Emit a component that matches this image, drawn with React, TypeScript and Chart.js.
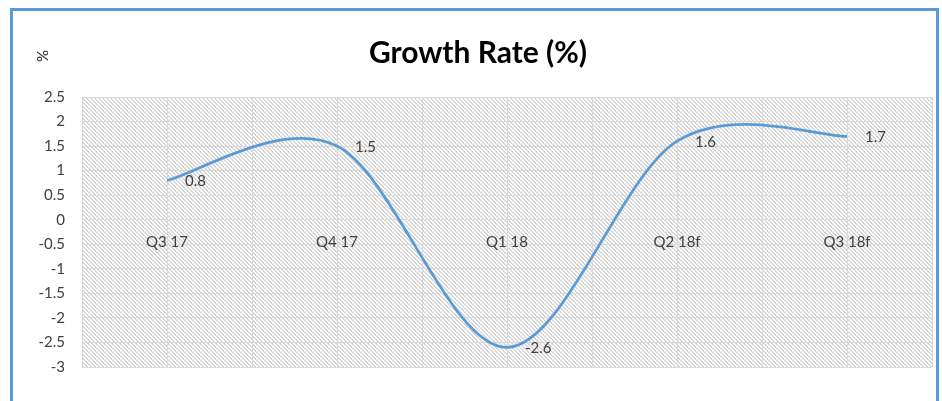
import React, { useEffect, useRef } from 'react';
import { Chart, registerables } from 'chart.js';

Chart.register(...registerables);

// ---- data ----
const categories: string[] = ['Q3 17', 'Q4 17', 'Q1 18', 'Q2 18f', 'Q3 18f'];
const growthRate: number[] = [0.8, 1.5, -2.6, 1.6, 1.7];
const dataLabels: string[] = ['0.8', '1.5', '-2.6', '1.6', '1.7'];
const yMin = -3;
const yMax = 2.5;
const yStep = 0.5;
const chartTitle = 'Growth Rate (%)';
const yUnit = '%';

// ---- styles ----
const FONT = 'Lato, "Open Sans", "DejaVu Sans", sans-serif';
const TEXT = '#404040';
const BLUE = '#5B9BD5';
const GRID = '#d9d9d9';

const excelSmooth = {
  id: 'excelSmooth',
  beforeDatasetsDraw(chart: any) {
    chart.data.datasets.forEach((_: any, di: number) => {
      const meta = chart.getDatasetMeta(di);
      if (meta.type !== 'line' || !meta.dataset) return;
      const pts = meta.data;
      for (let i = 0; i < pts.length; i++) {
        const p = pts[i];
        const prev = pts[i - 1] || p;
        const next = pts[i + 1] || p;
        const dx = (next.x - prev.x) / 6;
        const dy = (next.y - prev.y) / 6;
        p.cp1x = p.x - dx;
        p.cp1y = p.y - dy;
        p.cp2x = p.x + dx;
        p.cp2y = p.y + dy;
      }
      meta.dataset._pointsUpdated = true;
    });
  },
};

const decor = {
  id: 'decor',
  beforeDraw(chart: any) {
    const { ctx, chartArea: a, width, height } = chart;
    ctx.save();
    ctx.fillStyle = '#ffffff';
    ctx.fillRect(0, 0, width, height);
    const pc = document.createElement('canvas');
    pc.width = 4;
    pc.height = 4;
    const p = pc.getContext('2d')!;
    p.fillStyle = '#ffffff';
    p.fillRect(0, 0, 4, 4);
    p.fillStyle = '#d8d8d8';
    for (let i = 0; i < 4; i++) {
      p.fillRect(i, i, 1, 1);
      p.fillRect((i + 1) % 4, i, 1, 1);
    }
    const pat = ctx.createPattern(pc, 'repeat');
    if (pat) {
      ctx.fillStyle = pat;
      ctx.fillRect(a.left, a.top, a.right - a.left, a.bottom - a.top);
    }
    ctx.restore();
  },
  afterDraw(chart: any) {
    const { ctx, height, scales } = chart;
    const xs = scales.x;
    const ys = scales.y;
    ctx.save();
    // title
    ctx.fillStyle = '#000000';
    ctx.font = `bold 30px ${FONT}`;
    ctx.textAlign = 'center';
    ctx.textBaseline = 'alphabetic';
    ctx.fillText(chartTitle, 478, 63);
    // unit label
    ctx.save();
    ctx.translate(43, 56);
    ctx.rotate(-Math.PI / 2);
    ctx.font = `15px ${FONT}`;
    ctx.fillStyle = '#262626';
    ctx.textAlign = 'center';
    ctx.textBaseline = 'middle';
    ctx.fillText(yUnit, 0, 0);
    ctx.restore();
    // category labels at y = 0
    ctx.font = `15px ${FONT}`;
    ctx.fillStyle = TEXT;
    ctx.textAlign = 'center';
    ctx.textBaseline = 'middle';
    const y0 = ys.getPixelForValue(0);
    categories.forEach((c, i) => {
      ctx.fillText(c, xs.getPixelForValue(i), y0 + 22);
    });
    // data labels
    ctx.textAlign = 'left';
    const meta = chart.getDatasetMeta(0);
    meta.data.forEach((pt: any, i: number) => {
      ctx.fillText(dataLabels[i], pt.x + 18, pt.y + 1);
    });
    // border
    ctx.strokeStyle = BLUE;
    ctx.lineWidth = 3;
    ctx.beginPath();
    ctx.moveTo(11.5, height);
    ctx.lineTo(11.5, 9.5);
    ctx.lineTo(937.5, 9.5);
    ctx.lineTo(937.5, height);
    ctx.stroke();
    ctx.restore();
  },
};

export default function App() {
  const ref = useRef<HTMLCanvasElement | null>(null);
  useEffect(() => {
    if (!ref.current) return;
    const chart = new Chart(ref.current, {
      type: 'line',
      data: {
        datasets: [
          {
            label: 'Growth Rate',
            data: growthRate.map((v, i) => ({ x: i, y: v })),
            borderColor: BLUE,
            borderWidth: 2.75,
            tension: 0.4,
            pointRadius: 0,
            fill: false,
          },
        ],
      },
      options: {
        animation: false,
        responsive: false,
        devicePixelRatio: 1,
        layout: { padding: { left: 0, top: 97, right: 10, bottom: 34 } },
        plugins: {
          legend: { display: false },
          title: { display: false },
          tooltip: { enabled: false },
        },
        scales: {
          x: {
            type: 'linear',
            min: -0.5,
            max: categories.length - 0.5,
            ticks: { display: false, stepSize: 0.5 },
            grid: { color: GRID, drawTicks: false },
            border: { display: false },
            afterFit: (s: any) => {
              s.height = 0;
            },
          },
          y: {
            type: 'linear',
            min: yMin,
            max: yMax,
            ticks: {
              stepSize: yStep,
              padding: 17,
              color: TEXT,
              font: { family: FONT, size: 15 },
              callback: (v: any) => String(Math.round(Number(v) * 10) / 10),
            },
            grid: { color: GRID, drawTicks: false },
            border: { display: false },
            afterFit: (s: any) => {
              s.width = 82;
            },
          },
        },
      },
      plugins: [excelSmooth, decor],
    } as any);
    return () => chart.destroy();
  }, []);
  return (
    <div style={{ position: 'absolute', left: 0, top: 0, width: 942, height: 401 }}>
      <canvas ref={ref} width={942} height={401} style={{ display: 'block' }} />
    </div>
  );
}
